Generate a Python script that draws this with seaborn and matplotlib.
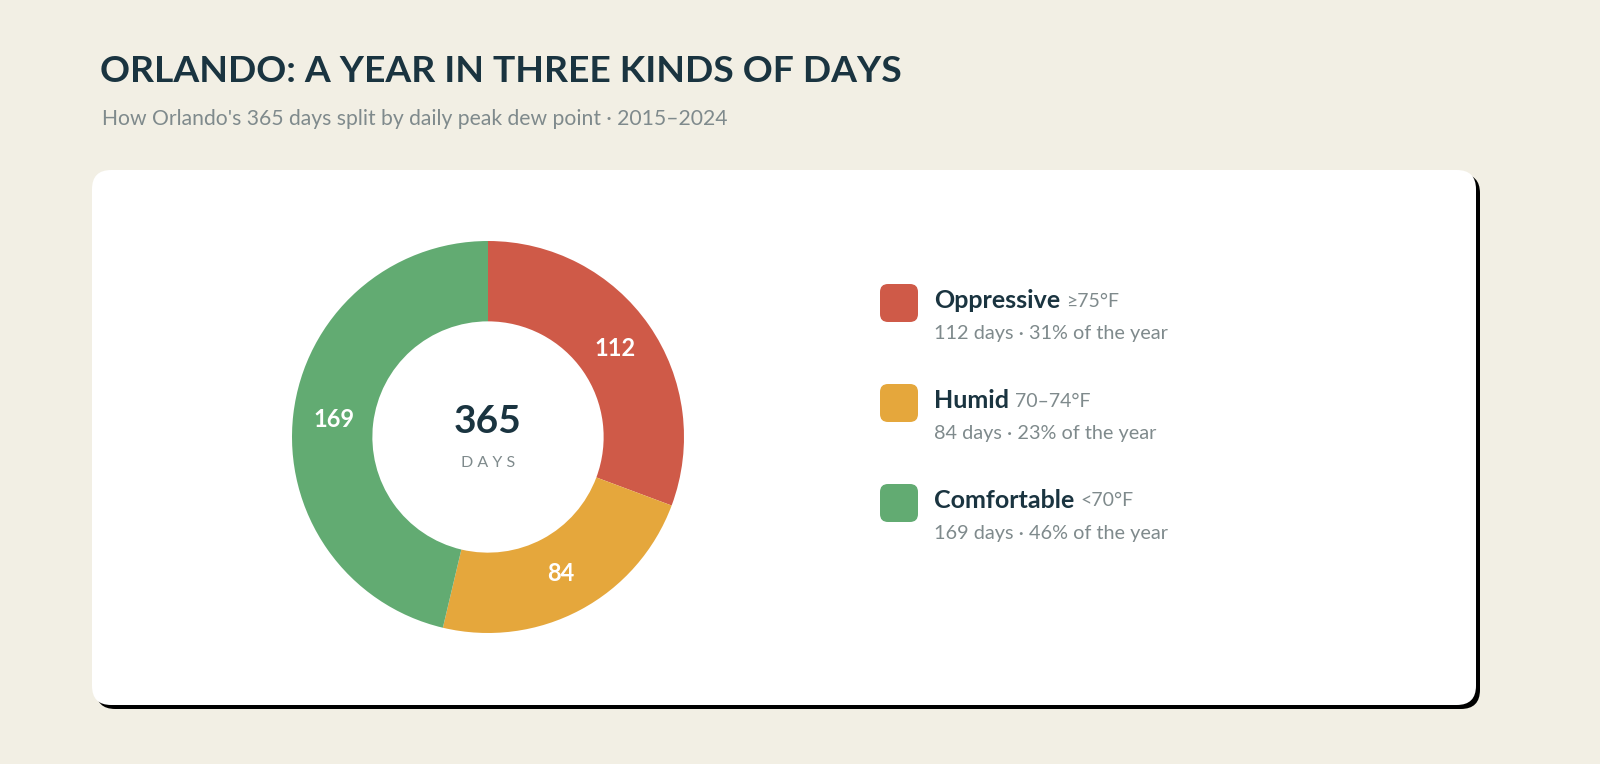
import matplotlib
matplotlib.use("Agg")
import matplotlib.pyplot as plt
import seaborn as sns
from matplotlib.patches import FancyBboxPatch

categories = ["Oppressive", "Humid", "Comfortable"]
ranges = ["≥75°F", "70–74°F", "<70°F"]
days = [112, 84, 169]
percents = [31, 23, 46]
colors = ["#cf5a48", "#e5a73c", "#62ab72"]

sns.set_theme(style="white")
plt.rcParams['font.family'] = ['Lato', 'DejaVu Sans']

W, H = 1600, 764
fig = plt.figure(figsize=(16, 7.64), dpi=100)
fig.patch.set_facecolor("#f2efe4")

def fx(x): return x / W
def fy(y): return 1 - y / H

shadow = FancyBboxPatch((fx(96), fy(709)), fx(1480 - 96), (709 - 174) / H,
                        boxstyle="round,pad=0,rounding_size=0.012", transform=fig.transFigure,
                        facecolor="black", edgecolor="none", mutation_aspect=W / H, zorder=0)
card = FancyBboxPatch((fx(92), fy(705)), fx(1476 - 92), (705 - 170) / H,
                      boxstyle="round,pad=0,rounding_size=0.012", transform=fig.transFigure,
                      facecolor="white", edgecolor="none", mutation_aspect=W / H, zorder=0)
fig.patches.extend([shadow, card])

fig.text(fx(100), fy(72), "ORLANDO: A YEAR IN THREE KINDS OF DAYS", fontsize=26.8, fontweight="bold",
         color="#1a3440", va="center", ha="left")
fig.text(fx(102), fy(119), "How Orlando's 365 days split by daily peak dew point · 2015–2024", fontsize=15.2,
         color="#7f8a8c", va="center", ha="left")

R = 196
ax = fig.add_axes([fx(488 - R), fy(437 + R), 2 * R / W, 2 * R / H])
ax.set_zorder(5)
ax.patch.set_alpha(0)
wedges, texts = ax.pie(days, colors=colors, startangle=90, counterclock=False,
                       labels=[str(d) for d in days], labeldistance=0.79,
                       wedgeprops=dict(width=0.41, edgecolor="none"),
                       textprops=dict(color="white", fontsize=17, fontweight="bold"))
for t in texts:
    t.set_ha("center"); t.set_va("center")
ax.set_xlim(-1, 1); ax.set_ylim(-1, 1)
ax.set_aspect("auto")
ax.axis("off")
ax.text(0, 0.08, str(sum(days)), ha="center", va="center", fontsize=28, fontweight="bold", color="#1a3440")
ax.text(0, -0.135, "D A Y S", ha="center", va="center", fontsize=11.5, color="#7f8a8c")

fig.canvas.draw()
r = fig.canvas.get_renderer()
for i, (c, rg, d, p, col) in enumerate(zip(categories, ranges, days, percents, colors)):
    yc = 303 + i * 100
    fig.patches.append(FancyBboxPatch((fx(880), fy(yc + 19)), fx(38), 38 / H,
                                      boxstyle="round,pad=0,rounding_size=0.005", transform=fig.transFigure,
                                      facecolor=col, edgecolor="none", mutation_aspect=W / H, zorder=1))
    t = fig.text(fx(934), fy(yc - 3), c, fontsize=18, fontweight="bold", color="#1a3440",
                 va="center", ha="left")
    bb = t.get_window_extent(r)
    fig.text(bb.x1 / W + fx(6), fy(yc - 2), rg, fontsize=14, color="#7f8a8c", va="center", ha="left")
    fig.text(fx(934), fy(yc + 30), f"{d} days · {p}% of the year", fontsize=14.3, color="#7f8a8c",
             va="center", ha="left")

fig.savefig("out.png", dpi=100, facecolor=fig.get_facecolor())
